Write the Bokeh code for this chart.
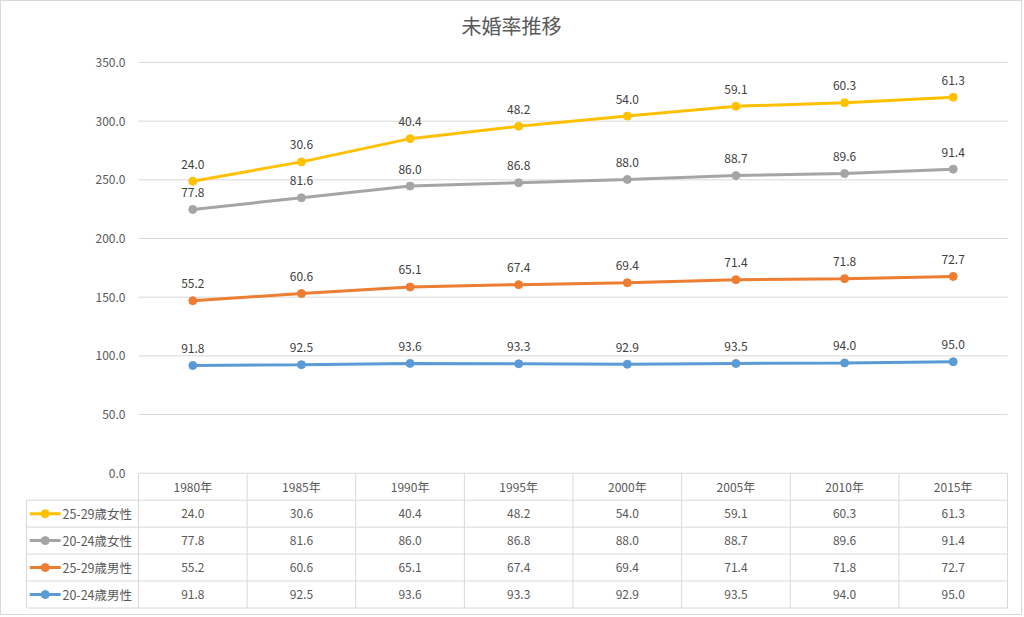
import numpy as np
from bokeh.plotting import figure
from bokeh.models import Range1d, ColumnDataSource
from bokeh.embed import file_html
from bokeh.resources import INLINE
from bokeh.core.properties import value

# ---- data ----
years = ["1980年", "1985年", "1990年", "1995年", "2000年", "2005年", "2010年", "2015年"]
male_20_24 = [91.8, 92.5, 93.6, 93.3, 92.9, 93.5, 94.0, 95.0]
male_25_29 = [55.2, 60.6, 65.1, 67.4, 69.4, 71.4, 71.8, 72.7]
female_20_24 = [77.8, 81.6, 86.0, 86.8, 88.0, 88.7, 89.6, 91.4]
female_25_29 = [24.0, 30.6, 40.4, 48.2, 54.0, 59.1, 60.3, 61.3]
series_names = ["20-24歳男性", "25-29歳男性", "20-24歳女性", "25-29歳女性"]  # stacking order
series_values = [male_20_24, male_25_29, female_20_24, female_25_29]
series_colors = ["#5B9BD5", "#ED7D31", "#A5A5A5", "#FFC000"]
y_ticks = [0, 50, 100, 150, 200, 250, 300, 350]
title_text = "未婚率推移"

FONT = value("Noto Sans CJK JP")
TXT = "#595959"
GRID = "#d9d9d9"

n = len(years)
nrows = len(series_names)
xs = np.arange(n) + 0.5
stacked = np.cumsum(np.array(series_values), axis=0)

# pixel geometry (layout only)
W, H = 1022, 615
col_px = 869 / n            # width of one year column
ypx = 411.5 / 350           # pixels per unit
row_u = 27.0 / ypx          # table row height in value units
x_start = -(138 - 24) / col_px
x_end = n + 1 / col_px
y_end = 350 + (61 - 45) / ypx
y_start = -(610 - 472.5) / ypx
left_edge = -(138 - 26) / col_px

p = figure(width=W, height=H, output_backend="svg", toolbar_location=None,
           x_range=Range1d(x_start, x_end), y_range=Range1d(y_start, y_end),
           min_border_left=23, min_border_right=15, min_border_top=44, min_border_bottom=6,
           styles={"border": "1px solid #d9d9d9"})
p.axis.visible = False
p.grid.visible = False
p.outline_line_color = None

p.title.text = title_text
p.title.align = "left"
p.title.offset = 437
p.title.text_font = "Noto Sans CJK JP"
p.title.text_font_size = "20px"
p.title.text_font_style = "normal"
p.title.text_color = TXT
p.title.standoff = 14

# gridlines & y tick labels
p.segment(x0=[0] * len(y_ticks), x1=[n] * len(y_ticks), y0=y_ticks, y1=y_ticks,
          line_color=GRID, line_width=1)
p.text(x=[0] * len(y_ticks), y=y_ticks, text=[f"{t:.1f}" for t in y_ticks],
       x_offset=-13, text_align="right", text_baseline="middle",
       text_font=FONT, text_font_size="12px", text_color=TXT)

# series
for vals, cum, col in zip(series_values, stacked, series_colors):
    src = ColumnDataSource(dict(x=xs, y=cum, lab=[f"{v:.1f}" for v in vals]))
    p.line("x", "y", source=src, line_color=col, line_width=3)
    p.scatter("x", "y", source=src, size=8, fill_color=col, line_color=col)
    p.text("x", "y", text="lab", source=src, text_align="center", text_baseline="middle",
           y_offset=-17, text_font=FONT, text_font_size="12px", text_color="#404040")

# ---- data table ----
row_y = [-row_u * (k + 1) for k in range(nrows + 1)]   # bottom edges of header + rows
p.segment(x0=[left_edge] * (nrows + 1), x1=[n] * (nrows + 1), y0=row_y, y1=row_y,
          line_color=GRID, line_width=1)
vx = list(range(n + 1))
p.segment(x0=vx, x1=vx, y0=[row_y[-1]] * (n + 1), y1=[0] * (n + 1), line_color=GRID, line_width=1)
p.segment(x0=[left_edge], x1=[left_edge], y0=[row_y[-1]], y1=[row_y[0]], line_color=GRID, line_width=1)

p.text(x=xs, y=[-row_u * 0.5] * n, text=years, text_align="center", text_baseline="middle",
       text_font=FONT, text_font_size="12px", text_color=TXT)

for k, idx in enumerate(reversed(range(nrows))):
    yc = -row_u * (k + 1.5)
    vals = series_values[idx]
    col = series_colors[idx]
    p.text(x=xs, y=[yc] * n, text=[f"{v:.1f}" for v in vals], text_align="center",
           text_baseline="middle", text_font=FONT, text_font_size="12px", text_color=TXT)
    lx0 = left_edge + 0.03
    lx1 = left_edge + 0.315
    p.segment(x0=[lx0], x1=[lx1], y0=[yc], y1=[yc], line_color=col, line_width=3)
    p.scatter(x=[(lx0 + lx1) / 2], y=[yc], size=8, fill_color=col, line_color=col)
    p.text(x=[left_edge + 0.331], y=[yc], text=[series_names[idx]], text_align="left",
           text_baseline="middle", text_font=FONT, text_font_size="12.5px", text_color=TXT)

open("out.html", "w").write(file_html(p, INLINE))
